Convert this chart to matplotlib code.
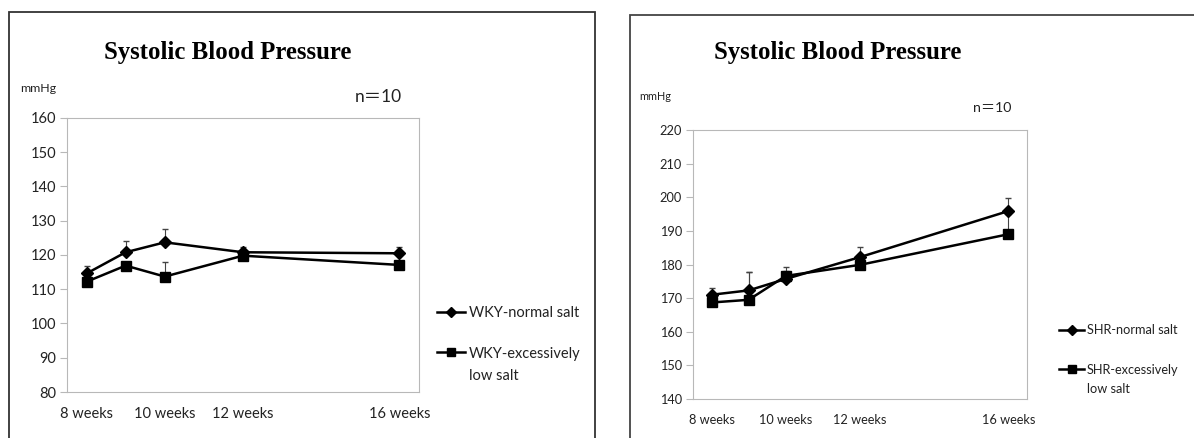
import matplotlib
matplotlib.use("Agg")
import matplotlib.pyplot as plt
from matplotlib.patches import Rectangle

# data
weeks = [8, 9, 10, 12, 16]
tick_weeks = [8, 10, 12, 16]
tick_labels = ["8 weeks", "10 weeks", "12 weeks", "16 weeks"]

wky_normal = [114.6, 120.8, 123.7, 120.8, 120.5]
wky_normal_err = [2.2, 3.4, 3.9, 1.6, 1.9]
wky_low = [112.2, 116.9, 113.7, 119.8, 117.1]
wky_low_err = [0.8, 0.8, 4.2, 0.6, 0.8]

shr_normal = [171.0, 172.3, 175.7, 182.2, 195.9]
shr_normal_err = [2.0, 5.6, 3.7, 2.9, 3.8]
shr_low = [168.7, 169.5, 176.6, 179.9, 189.0]
shr_low_err = [0.8, 8.3, 1.5, 0.6, 6.0]

FONT = ["Lato", "Noto Sans CJK JP", "DejaVu Sans"]
W, H = 1194, 438

fig = plt.figure(figsize=(W / 100, H / 100), dpi=100)
fig.patch.set_facecolor("white")


def px_axes(left, top, right, bottom):
    return fig.add_axes([left / W, 1 - bottom / H, (right - left) / W, (bottom - top) / H])


def panel(ax, normal, nerr, low, lerr, ylim, labels, fs, title_xy, mm_xy, n_xy, n_fs,
          leg_xy, leg_space):
    gray = "#b8b8b8"
    c1 = ax.errorbar(weeks, normal, yerr=[[0] * len(nerr), nerr], color="black", lw=1.8,
                     marker="D", ms=6.5, ecolor="#444444", elinewidth=0.8, capsize=2.5,
                     zorder=3)
    c2 = ax.errorbar(weeks, low, yerr=[[0] * len(lerr), lerr], color="black", lw=1.8,
                     marker="s", ms=7, ecolor="#444444", elinewidth=0.8, capsize=2.5,
                     zorder=3)
    ax.set_xlim(7.5, 16.5)
    ax.set_ylim(*ylim)
    ax.set_yticks(range(ylim[0], ylim[1] + 1, 10))
    ax.set_xticks(tick_weeks)
    ax.set_xticklabels(tick_labels)
    for s in ax.spines.values():
        s.set_color(gray)
        s.set_linewidth(0.8)
    ax.tick_params(axis="y", length=5, width=0.8, color=gray, pad=3, labelsize=fs,
                   labelcolor="#222222")
    ax.tick_params(axis="x", length=0, pad=11, labelsize=fs, labelcolor="#222222")
    for t in ax.get_xticklabels() + ax.get_yticklabels():
        t.set_family(FONT)

    fig.text(title_xy[0] / W, 1 - title_xy[1] / H, "Systolic Blood Pressure",
             family="Liberation Serif", weight="bold", fontsize=17.8,
             ha="center", va="center")
    fig.text(mm_xy[0] / W, 1 - mm_xy[1] / H, "mmHg", family=FONT, fontsize=fs * 0.85,
             ha="left", va="center", color="#222222")
    fig.text(n_xy[0] / W, 1 - n_xy[1] / H, "n＝10", family=FONT, fontsize=n_fs,
             ha="left", va="center", color="#222222")
    # legend: second label wraps, handle sits on its first line
    leg = ax.legend(handles=[c1[0], c2[0]], labels=labels[:2], loc="upper left",
                    bbox_to_anchor=(leg_xy[0] / W, 1 - leg_xy[1] / H),
                    bbox_transform=fig.transFigure, frameon=False, handlelength=1.9,
                    handletextpad=0.25, labelspacing=leg_space, borderpad=0,
                    prop={"family": FONT, "size": fs})
    for t in leg.get_texts():
        t.set_color("#222222")
    for h in leg.legend_handles:
        h.set_markersize(5.5)
    fig.canvas.draw()
    bb = leg.get_texts()[1].get_window_extent()
    fig.text(bb.x0 / W, (bb.y0 - fs * 1.39 * 0.55) / H, labels[2], family=FONT,
             fontsize=fs, ha="left", va="top", color="#222222")


ax1 = px_axes(67, 118, 419, 392)
panel(ax1, wky_normal, wky_normal_err, wky_low, wky_low_err, (80, 160),
      ["WKY-normal salt", "WKY-excessively", "low salt"], 10.5,
      (228, 52), (20, 89), (355, 97), 12.5, (430, 299), 1.8)

ax2 = px_axes(693, 130, 1027, 399)
panel(ax2, shr_normal, shr_normal_err, shr_low, shr_low_err, (140, 220),
      ["SHR-normal salt", "SHR-excessively", "low salt"], 9.2,
      (838, 52), (639, 97), (973, 108), 10.2, (1053, 318), 2.15)

# panel frames
fig.patches.append(Rectangle((8.6 / W, -0.05), (594.5 - 8.6) / W, 1.05 - 12 / H,
                             transform=fig.transFigure, fill=False, ec="#333333", lw=1.3))
fig.patches.append(Rectangle((630 / W, -0.05), 0.5, 1.05 - 15 / H,
                             transform=fig.transFigure, fill=False, ec="#444444", lw=1.3))

fig.savefig("out.png", dpi=100, facecolor="white")
